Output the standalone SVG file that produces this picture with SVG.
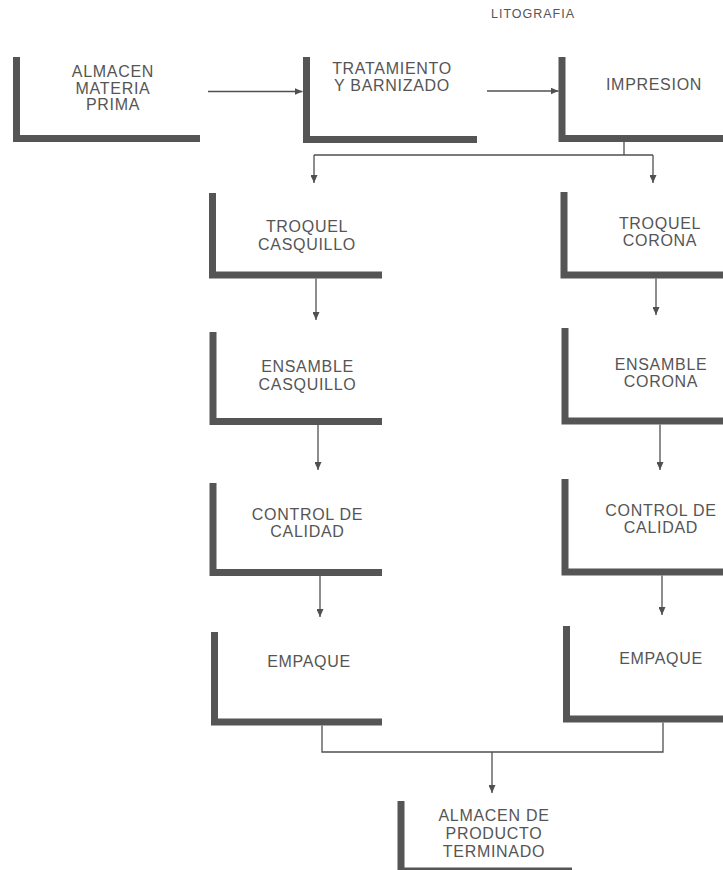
<svg xmlns="http://www.w3.org/2000/svg" width="723" height="870" viewBox="0 0 723 870">
<defs>
<marker id="ah" markerUnits="userSpaceOnUse" markerWidth="8" markerHeight="7" refX="8" refY="3.5" orient="auto">
<path d="M0,0 L8,3.5 L0,7 z" fill="#505050"/>
</marker>
<style>
.bar{fill:none;stroke:#555;stroke-width:7;stroke-linejoin:miter;stroke-linecap:butt}
.lbl{font-family:"Liberation Sans",Arial,Helvetica,sans-serif;font-size:16px;letter-spacing:0.7px;fill:#555;text-anchor:middle}
.sm{font-family:"Liberation Sans",Arial,Helvetica,sans-serif;font-size:12.5px;letter-spacing:1px;fill:#555;text-anchor:middle}
.c{fill:none;stroke:#505050;stroke-width:1.3}
.ca{fill:none;stroke:#505050;stroke-width:1.3;marker-end:url(#ah)}
</style>
</defs>
<rect width="723" height="870" fill="#ffffff"/>
<text class="sm" x="533" y="18">LITOGRAFIA</text>
<g id="almacen-mp">
<path class="bar" d="M16.5 57 V138.5 H200"/>
<text class="lbl" x="113" y="77">ALMACEN</text>
<text class="lbl" x="113" y="93.5">MATERIA</text>
<text class="lbl" x="113" y="110">PRIMA</text>
</g>
<g id="tratamiento">
<path class="bar" d="M306.5 57 V139.5 H477"/>
<text class="lbl" x="392" y="74">TRATAMIENTO</text>
<text class="lbl" x="392" y="91">Y BARNIZADO</text>
</g>
<g id="impresion">
<path class="bar" d="M562 57 V138.5 H730"/>
<text class="lbl" x="654" y="90">IMPRESION</text>
</g>
<g id="troquel-casquillo">
<path class="bar" d="M212.5 193 V275 H382"/>
<text class="lbl" x="307" y="232">TROQUEL</text>
<text class="lbl" x="307" y="250">CASQUILLO</text>
</g>
<g id="troquel-corona">
<path class="bar" d="M564 192 V275 H730"/>
<text class="lbl" x="660" y="229">TROQUEL</text>
<text class="lbl" x="660" y="246">CORONA</text>
</g>
<g id="ensamble-casquillo">
<path class="bar" d="M213 332 V421.5 H382"/>
<text class="lbl" x="307.5" y="372">ENSAMBLE</text>
<text class="lbl" x="307.5" y="390">CASQUILLO</text>
</g>
<g id="ensamble-corona">
<path class="bar" d="M565 328 V421 H730"/>
<text class="lbl" x="661" y="370">ENSAMBLE</text>
<text class="lbl" x="661" y="387">CORONA</text>
</g>
<g id="control-casquillo">
<path class="bar" d="M213 483 V572.5 H382"/>
<text class="lbl" x="307.5" y="520">CONTROL DE</text>
<text class="lbl" x="307.5" y="537">CALIDAD</text>
</g>
<g id="control-corona">
<path class="bar" d="M565 479 V572 H730"/>
<text class="lbl" x="661" y="516">CONTROL DE</text>
<text class="lbl" x="661" y="533">CALIDAD</text>
</g>
<g id="empaque-casquillo">
<path class="bar" d="M214.5 632 V722 H382"/>
<text class="lbl" x="309" y="667">EMPAQUE</text>
</g>
<g id="empaque-corona">
<path class="bar" d="M566.5 626 V719 H730"/>
<text class="lbl" x="661" y="664">EMPAQUE</text>
</g>
<g id="almacen-pt">
<path class="bar" d="M401 801 V871 H572"/>
<text class="lbl" x="494" y="821">ALMACEN DE</text>
<text class="lbl" x="494" y="839">PRODUCTO</text>
<text class="lbl" x="494" y="857">TERMINADO</text>
</g>
<g id="connectors">
<path class="ca" d="M208 91.5 H302.5"/>
<path class="ca" d="M487 91 H558.5"/>
<path class="c" d="M624 142 V155 M314 155 H653"/>
<path class="ca" d="M314 155 V183"/>
<path class="ca" d="M653 155 V183"/>
<path class="ca" d="M316 278.5 V320"/>
<path class="ca" d="M656 278.5 V315"/>
<path class="ca" d="M318 425 V470"/>
<path class="ca" d="M660 424.5 V470"/>
<path class="ca" d="M320 576 V617"/>
<path class="ca" d="M662 575.5 V615"/>
<path class="c" d="M322 725.5 V752 H663 V722.5"/>
<path class="ca" d="M492 752 V793"/>
</g>
</svg>
